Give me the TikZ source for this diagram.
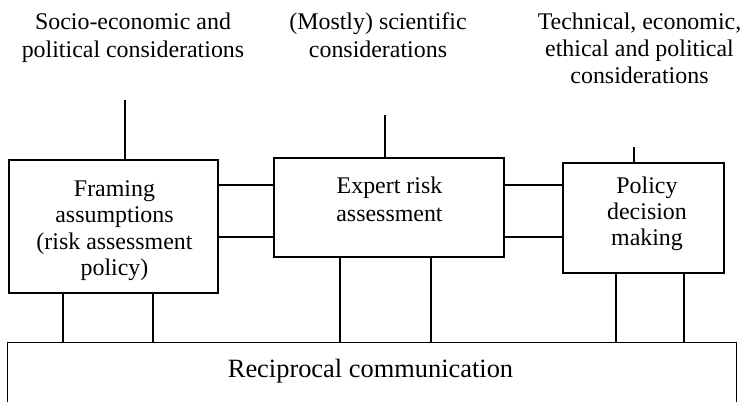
\documentclass[tikz,border=0pt]{standalone}
\usepackage{fontspec}
\setmainfont{Liberation Serif}
% fixed height for the first line of each label so its top sits at a known place
\newcommand{\firstline}{\rule{0pt}{19bp}}
\begin{document}
\begin{tikzpicture}[x=1bp,y=-1bp,
  line width=1.3bp,
  box/.style={draw, line width=1.3bp, inner sep=0pt},
  boxtext/.style={align=center, inner sep=0pt, anchor=north,
    font=\fontsize{24}{26.3}\selectfont},
  note/.style={align=center, inner sep=0pt, anchor=north,
    font=\fontsize{24}{28}\selectfont},
  link/.style={line width=1.3bp}]
\useasboundingbox (0,0) rectangle (743,401);

% considerations above the stages
\node[note] (soc) at (133,10) {\firstline Socio-economic and\\political considerations};
\node[note] (sci) at (378,10) {\firstline(Mostly) scientific\\considerations};
\node[note, font=\fontsize{24}{27}\selectfont] (tech) at (639.5,10)
  {\firstline Technical, economic,\\ethical and political\\considerations};

% the three stages
\node[box, minimum width=209bp, minimum height=133bp] (frame) at (113.5,226.5) {};
\node[box, minimum width=230bp, minimum height=99bp] (expert) at (389,207.5) {};
\node[box, minimum width=161bp, minimum height=110bp] (policy) at (643.5,218) {};
\node[boxtext] (frameText) at (114.5,177)
  {\firstline Framing\\assumptions\\(risk assessment\\policy)};
\node[boxtext, font=\fontsize{24}{28}\selectfont] (expertText) at (389.5,174)
  {\firstline Expert risk\\assessment};
\node[boxtext, font=\fontsize{24}{26}\selectfont] (policyText) at (647,174)
  {\firstline Policy\\decision\\making};

% communication band (open at the foot)
\node[minimum width=728bp, minimum height=58bp, inner sep=0pt] (comm) at (372,372) {};
\node[anchor=base, inner sep=0pt, font=\fontsize{26.5}{30}\selectfont] (commText)
  at (370.5,377) {Reciprocal communication};
\draw[link] (comm.south west) -- (comm.north west) -- (comm.north east) -- (comm.south east);

% leads from the considerations
\coordinate (socEnd) at (125,100);
\coordinate (sciEnd) at (385,115);
\coordinate (techEnd) at (634,147);
\draw[link] (socEnd) -- (socEnd |- frame.north);
\draw[link] (sciEnd) -- (sciEnd |- expert.north);
\draw[link] (techEnd) -- (techEnd |- policy.north);

% links between stages
\foreach \yy in {185,237} {
  \draw[link] (frame.east |- 0,\yy) -- (expert.west |- 0,\yy);
  \draw[link] (expert.east |- 0,\yy) -- (policy.west |- 0,\yy);
}

% links down to the communication band
\foreach \xx in {63,153} \draw[link] (frame.south -| \xx,0) -- (comm.north -| \xx,0);
\foreach \xx in {340,431} \draw[link] (expert.south -| \xx,0) -- (comm.north -| \xx,0);
\foreach \xx in {616,684} \draw[link] (policy.south -| \xx,0) -- (comm.north -| \xx,0);
\end{tikzpicture}
\end{document}
